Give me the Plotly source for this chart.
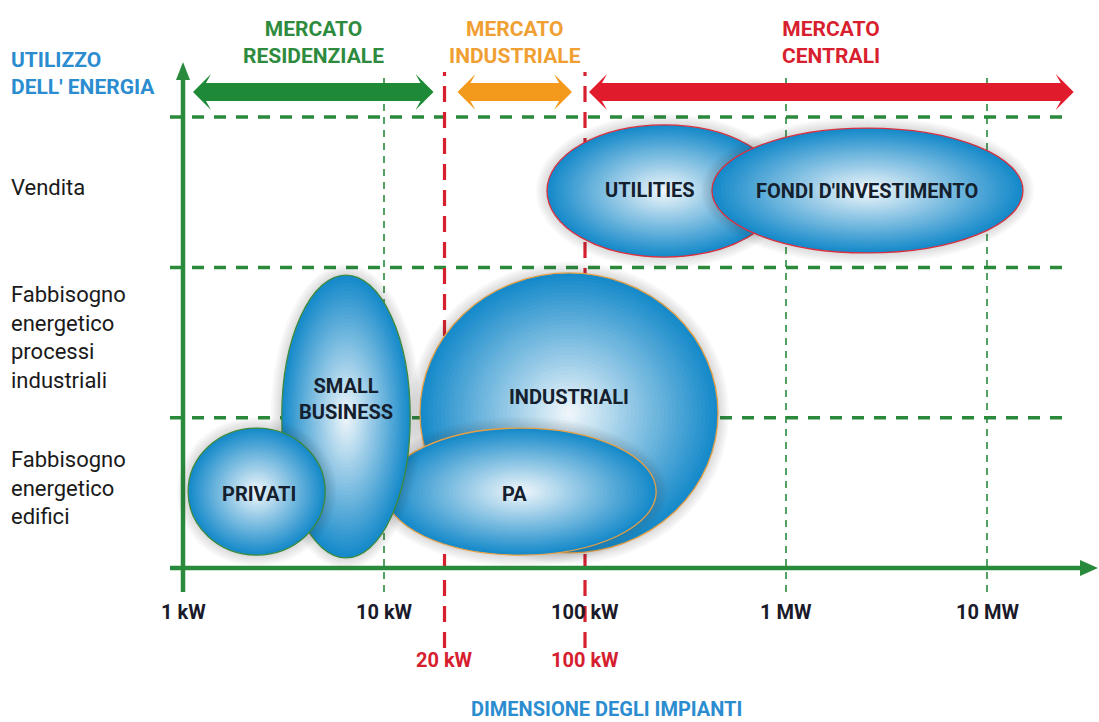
import numpy as np
import plotly.graph_objects as go

# ---------------------------------------------------------------- data
# Horizontal axis: plant size in kW (log scale). Vertical axis: energy use rows.
tick_kw = [1, 10, 100, 1000, 10000]
tick_labels = ["1 kW", "10 kW", "100 kW", "1 MW", "10 MW"]
grid_kw = [10, 1000, 10000]
threshold_kw = [20, 100]
threshold_labels = ["20 kW", "100 kW"]

row_bounds = [1, 2, 3]
row_centers = [0.5, 1.5, 2.5]
row_labels = [
    "Fabbisogno<br>energetico<br>edifici",
    "Fabbisogno<br>energetico<br>processi<br>industriali",
    "Vendita",
]

market_labels = ["MERCATO<br>RESIDENZIALE", "MERCATO<br>INDUSTRIALE", "MERCATO<br>CENTRALI"]
market_from_kw = [1, 20, 100]
market_to_kw = [20, 100, 27000]
market_colors = ["#1e8a37", "#f39a1c", "#e01b2b"]
market_text_colors = ["#2e8b3e", "#f0a033", "#d81f2f"]

segments = ["INDUSTRIALI", "PA", "SMALL<br>BUSINESS", "PRIVATI", "UTILITIES", "FONDI D'INVESTIMENTO"]
seg_kw_min = [15.1, 10.1, 3.1, 1.06, 64.7, 428]
seg_kw_max = [459, 226, 13.5, 5.1, 950, 15100]
seg_row_min = [0.10, 0.086, 0.067, 0.086, 2.069, 2.096]
seg_row_max = [1.963, 0.931, 1.949, 0.931, 2.948, 2.927]
seg_outline = ["#e6a044", "#e6a044", "#3c8a3c", "#3c8a3c", "#d8303f", "#d8303f"]
# label offsets in pixels (dx, dy) from each ellipse centre
seg_label_shift = [(0, 16), (-6, -2), (0, 18), (2, -2), (-14, 1), (0, 0)]

# ---------------------------------------------------------------- geometry
W, H = 1099, 722
X0_PX, PX_PER_DEC = 183.0, 201.0       # pixel of 1 kW, pixels per decade
AXIS_PX, PX_PER_ROW = 568.0, 150.3     # pixel of the horizontal axis, pixels per row

def lx(kw):
    return float(np.log10(kw))

def dxp(px):   # pixel distance -> x units
    return px / PX_PER_DEC

def dyp(px):   # pixel distance -> y units
    return px / PX_PER_ROW

def py(pix):   # absolute pixel row -> y units
    return (AXIS_PX - pix) / PX_PER_ROW

def pxx(pix):  # absolute pixel column -> x units
    return (pix - X0_PX) / PX_PER_DEC

GREEN = "#2a8a3c"
RED = "#d6202f"
BLUE = "#2b8dcf"
FONT = "Roboto, Open Sans, DejaVu Sans"

shapes = []
annotations = []

# horizontal dashed row separators
for r in row_bounds:
    shapes.append(dict(type="line", x0=pxx(170), x1=pxx(1068), y0=r, y1=r,
                       line=dict(color=GREEN, width=3.5, dash="12px,10px")))

# thin vertical dashed guides
for kw in grid_kw:
    shapes.append(dict(type="line", x0=lx(kw), x1=lx(kw), y0=py(592), y1=py(78),
                       line=dict(color=GREEN, width=1.6, dash="7px,6px")))

# red market thresholds
for kw in threshold_kw:
    shapes.append(dict(type="line", x0=lx(kw), x1=lx(kw), y0=py(648), y1=py(72),
                       line=dict(color=RED, width=3.2, dash="16px,10px")))

# axes
shapes.append(dict(type="line", x0=pxx(170), x1=pxx(1082), y0=0, y1=0,
                   line=dict(color=GREEN, width=4.5)))
shapes.append(dict(type="path",
                   path=f"M {pxx(1080)},{dyp(8)} L {pxx(1098)},0 L {pxx(1080)},{-dyp(8)} Z",
                   fillcolor=GREEN, line=dict(width=0)))
shapes.append(dict(type="line", x0=0, x1=0, y0=py(592), y1=py(78),
                   line=dict(color=GREEN, width=4.5)))
shapes.append(dict(type="path",
                   path=f"M {-dxp(7)},{py(80)} L 0,{py(62)} L {dxp(7)},{py(80)} Z",
                   fillcolor=GREEN, line=dict(width=0)))

# ellipses with a radial gradient built from stacked fills
EDGE = np.array([22, 138, 202])
CENTER = np.array([244, 249, 252])
N_LAYERS = 36
for i, name in enumerate(segments):
    cx = (lx(seg_kw_min[i]) + lx(seg_kw_max[i])) / 2
    rx = (lx(seg_kw_max[i]) - lx(seg_kw_min[i])) / 2
    cy = (seg_row_min[i] + seg_row_max[i]) / 2
    ry = (seg_row_max[i] - seg_row_min[i]) / 2
    # soft halo
    for k in range(5, 0, -1):
        g = 2.2 * k
        shapes.append(dict(type="circle", x0=cx - rx - dxp(g), x1=cx + rx + dxp(g),
                           y0=cy - ry - dyp(g), y1=cy + ry + dyp(g),
                           fillcolor="rgba(70,70,70,0.035)", line=dict(width=0)))
    for j in range(N_LAYERS):
        s = 1 - j / N_LAYERS
        t = 1 - s
        c = EDGE + (CENTER - EDGE) * t
        col = f"rgb({int(c[0])},{int(c[1])},{int(c[2])})"
        line = dict(color=seg_outline[i], width=1.3) if j == 0 else dict(width=0)
        shapes.append(dict(type="circle", x0=cx - s * rx, x1=cx + s * rx,
                           y0=cy - s * ry, y1=cy + s * ry,
                           fillcolor=col, line=line))
    dx, dy = seg_label_shift[i]
    annotations.append(dict(x=cx, y=cy, text=f"<b>{name}</b>", showarrow=False,
                            xshift=dx, yshift=dy,
                            font=dict(family=FONT, size=20, color="#14202e")))

# double-headed market arrows
AC = py(92)
HH, BH, HL = dyp(18), dyp(9), dxp(18)
gaps_left = [10, 13, 4]
gaps_right = [11, 13, 0]
for i, lab in enumerate(market_labels):
    a = lx(market_from_kw[i]) + dxp(gaps_left[i])
    b = lx(market_to_kw[i]) - dxp(gaps_right[i])
    pts = [(a, AC), (a + HL, AC + HH), (a + HL * 0.72, AC + BH),
           (b - HL * 0.72, AC + BH), (b - HL, AC + HH), (b, AC),
           (b - HL, AC - HH), (b - HL * 0.72, AC - BH),
           (a + HL * 0.72, AC - BH), (a + HL, AC - HH)]
    path = "M " + " L ".join(f"{x},{y}" for x, y in pts) + " Z"
    shapes.append(dict(type="path", path=path, fillcolor=market_colors[i],
                       line=dict(width=0)))
    annotations.append(dict(x=(a + b) / 2, y=py(42), text=f"<b>{lab}</b>",
                            showarrow=False,
                            font=dict(family=FONT, size=21, color=market_text_colors[i])))

# tick labels
for kw, lab in zip(tick_kw, tick_labels):
    annotations.append(dict(x=lx(kw), y=py(612), text=f"<b>{lab}</b>", showarrow=False,
                            font=dict(family=FONT, size=20, color="#1a1a2a")))
for kw, lab in zip(threshold_kw, threshold_labels):
    annotations.append(dict(x=lx(kw), y=py(660), text=f"<b>{lab}</b>", showarrow=False,
                            font=dict(family=FONT, size=20, color=RED)))

# row labels
for yc, lab in zip(row_centers, row_labels):
    annotations.append(dict(x=pxx(9), y=yc, yshift=5, text=lab, showarrow=False,
                            xanchor="left", align="left",
                            font=dict(family=FONT, size=22, color="#1a1a1a")))

# axis titles
annotations.append(dict(x=pxx(9), y=py(73), text="<b>UTILIZZO<br>DELL' ENERGIA</b>",
                        showarrow=False, xanchor="left", align="left",
                        font=dict(family=FONT, size=21, color=BLUE)))
annotations.append(dict(x=pxx(606), y=py(709), text="<b>DIMENSIONE DEGLI IMPIANTI</b>",
                        showarrow=False,
                        font=dict(family=FONT, size=20, color=BLUE)))

fig = go.Figure()
fig.update_layout(
    width=W, height=H,
    margin=dict(l=0, r=0, t=0, b=0),
    paper_bgcolor="white", plot_bgcolor="white",
    xaxis=dict(range=[pxx(0), pxx(W)], visible=False, fixedrange=True),
    yaxis=dict(range=[py(H), py(0)], visible=False, fixedrange=True),
    shapes=shapes,
    annotations=annotations,
    showlegend=False,
)
fig.write_html("out.html", config={"displayModeBar": False})
